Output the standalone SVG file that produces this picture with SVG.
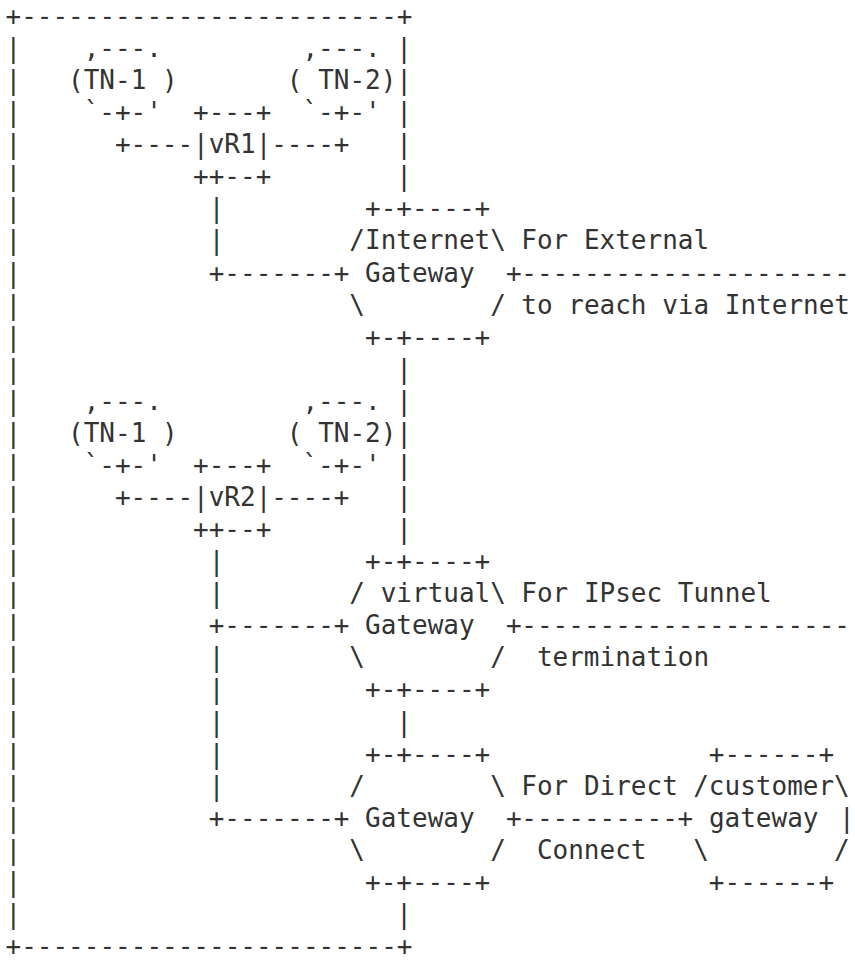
<svg xmlns="http://www.w3.org/2000/svg" width="855" height="963" viewBox="0 0 855 963" xml:space="preserve">
<style>
  text { font-family: "DejaVu Sans Mono", "Liberation Mono", monospace; font-size: 26px; fill: #333333; white-space: pre; }
</style>
<rect x="0" y="0" width="855" height="963" fill="#ffffff"/>

<g id="frame">
  <text x="5.5" y="25">+------------------------+</text>
  <text x="5.5" y="955.03">+------------------------+</text>
  <text><tspan x="5.5" y="57.07">|</tspan><tspan x="5.5" y="89.14">|</tspan><tspan x="5.5" y="121.21">|</tspan><tspan x="5.5" y="153.28">|</tspan><tspan x="5.5" y="185.35">|</tspan><tspan x="5.5" y="217.42">|</tspan><tspan x="5.5" y="249.49">|</tspan><tspan x="5.5" y="281.56">|</tspan><tspan x="5.5" y="313.63">|</tspan><tspan x="5.5" y="345.7">|</tspan><tspan x="5.5" y="377.77">|</tspan><tspan x="5.5" y="409.84">|</tspan><tspan x="5.5" y="441.91">|</tspan><tspan x="5.5" y="473.98">|</tspan><tspan x="5.5" y="506.05">|</tspan><tspan x="5.5" y="538.12">|</tspan><tspan x="5.5" y="570.19">|</tspan><tspan x="5.5" y="602.26">|</tspan><tspan x="5.5" y="634.33">|</tspan><tspan x="5.5" y="666.4">|</tspan><tspan x="5.5" y="698.47">|</tspan><tspan x="5.5" y="730.54">|</tspan><tspan x="5.5" y="762.61">|</tspan><tspan x="5.5" y="794.68">|</tspan><tspan x="5.5" y="826.75">|</tspan><tspan x="5.5" y="858.82">|</tspan><tspan x="5.5" y="890.89">|</tspan><tspan x="5.5" y="922.96">|</tspan></text>
  <text><tspan x="396.25" y="57.07">|</tspan><tspan x="396.25" y="89.14">|</tspan><tspan x="396.25" y="121.21">|</tspan><tspan x="396.25" y="153.28">|</tspan><tspan x="396.25" y="185.35">|</tspan></text>
</g>

<g id="tn1-upper">
  <text x="83.65" y="57.07">,---.</text>
  <text x="68.02" y="89.14">(TN-1 )</text>
  <text x="83.65" y="121.21">`-+-'</text>
</g>
<g id="tn2-upper">
  <text x="302.47" y="57.07">,---.</text>
  <text x="286.84" y="89.14">( TN-2)</text>
  <text x="302.47" y="121.21">`-+-'</text>
</g>
<g id="vr1">
  <text x="193.06" y="121.21">+---+</text>
  <text x="193.06" y="153.28">|vR1|</text>
  <text x="193.06" y="185.35">++--+</text>
</g>

<g id="tn1-lower">
  <text x="83.65" y="409.84">,---.</text>
  <text x="68.02" y="441.91">(TN-1 )</text>
  <text x="83.65" y="473.98">`-+-'</text>
</g>
<g id="tn2-lower">
  <text x="302.47" y="409.84">,---.</text>
  <text x="286.84" y="441.91">( TN-2)</text>
  <text x="302.47" y="473.98">`-+-'</text>
</g>
<g id="vr2">
  <text x="193.06" y="473.98">+---+</text>
  <text x="193.06" y="506.05">|vR2|</text>
  <text x="193.06" y="538.12">++--+</text>
</g>

<g id="gw-internet">
  <text x="364.99" y="217.42">+-+----+</text>
  <text x="349.36" y="249.49">/Internet\</text>
  <text x="333.73" y="281.56">+ Gateway  +</text>
  <text x="349.36" y="313.63">\        /</text>
  <text x="364.99" y="345.7">+-+----+</text>
</g>
<g id="gw-virtual">
  <text x="364.99" y="570.19">+-+----+</text>
  <text x="349.36" y="602.26">/ virtual\</text>
  <text x="333.73" y="634.33">+ Gateway  +</text>
  <text x="349.36" y="666.4">\        /</text>
  <text x="364.99" y="698.47">+-+----+</text>
</g>
<g id="gw-direct">
  <text x="364.99" y="762.61">+-+----+</text>
  <text x="349.36" y="794.68">/        \</text>
  <text x="333.73" y="826.75">+ Gateway  +</text>
  <text x="349.36" y="858.82">\        /</text>
  <text x="364.99" y="890.89">+-+----+</text>
</g>
<g id="customer-gw">
  <text x="708.85" y="762.61">+------+</text>
  <text x="693.22" y="794.68">/customer\</text>
  <text x="677.59" y="826.75">+ gateway</text>
  <text x="839" y="826.75">|</text>
  <text x="693.22" y="858.82">\        /</text>
  <text x="708.85" y="890.89">+------+</text>
</g>

<g id="connectors">
  <text x="114.91" y="153.28">+----</text>
  <text x="271.21" y="153.28">----+</text>
  <text><tspan x="208.69" y="217.42">|</tspan><tspan x="208.69" y="249.49">|</tspan></text>
  <text x="208.69" y="281.56">+-------</text>
  <text x="521.29" y="281.56">---------------------</text>
  <text><tspan x="396.25" y="377.77">|</tspan><tspan x="396.25" y="409.84">|</tspan><tspan x="396.25" y="441.91">|</tspan><tspan x="396.25" y="473.98">|</tspan><tspan x="396.25" y="506.05">|</tspan><tspan x="396.25" y="538.12">|</tspan></text>
  <text x="114.91" y="506.05">+----</text>
  <text x="271.21" y="506.05">----+</text>
  <text><tspan x="208.69" y="570.19">|</tspan><tspan x="208.69" y="602.26">|</tspan></text>
  <text x="208.69" y="634.33">+-------</text>
  <text x="521.29" y="634.33">---------------------</text>
  <text><tspan x="208.69" y="666.4">|</tspan><tspan x="208.69" y="698.47">|</tspan><tspan x="208.69" y="730.54">|</tspan><tspan x="208.69" y="762.61">|</tspan><tspan x="208.69" y="794.68">|</tspan></text>
  <text x="396.25" y="730.54">|</text>
  <text x="208.69" y="826.75">+-------</text>
  <text x="521.29" y="826.75">----------</text>
  <text x="396.25" y="922.96">|</text>
</g>

<g id="labels">
  <text x="521.29" y="249.49">For External</text>
  <text x="521.29" y="313.63">to reach via Internet</text>
  <text x="521.29" y="602.26">For IPsec Tunnel</text>
  <text x="536.92" y="666.4">termination</text>
  <text x="521.29" y="794.68">For Direct</text>
  <text x="536.92" y="858.82">Connect</text>
</g>
</svg>
